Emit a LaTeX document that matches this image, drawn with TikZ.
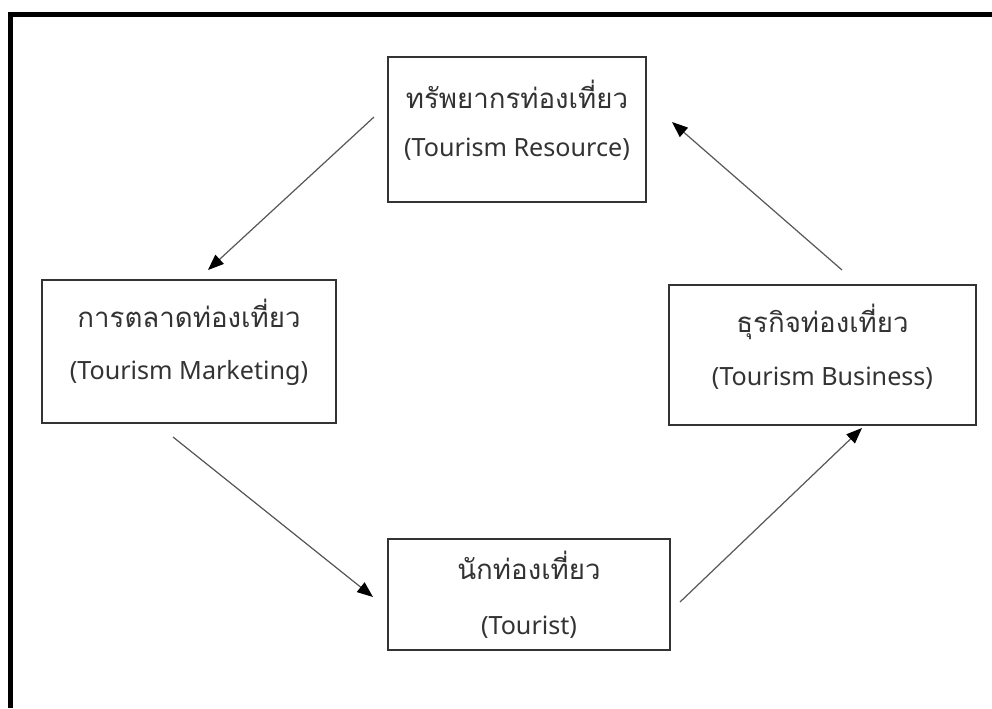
\documentclass[tikz,border=0pt]{standalone}
\usepackage{fontspec}
\setmainfont{Noto Sans}
\newfontfamily\thaifont[Script=Thai,Scale=1.1]{Loma}
\usetikzlibrary{arrows.meta}
\definecolor{txt}{rgb}{0.2,0.2,0.2}
\tikzstyle{every box node}=[draw=black!80,line width=0.7pt,align=center,text=txt,font=\fontsize{14.3}{17}\selectfont]
\tikzstyle{flow}=[draw=black!65,line width=0.7pt,-{Triangle[length=9pt,width=7pt]},arrows={[color=black]}]

\begin{document}
\begin{tikzpicture}[x=0.02cm,y=-0.02cm]
\useasboundingbox (0,0) rectangle (992,708);
\draw[line width=2.8pt,line join=miter] (10.5,708) -- (10.5,14.5) -- (992,14.5);

\node[every box node,minimum width=5.16cm,minimum height=2.9cm] (res) at (517,129.5) {{\thaifont ทรัพยากรท่องเที่ยว}\\[10.5pt](Tourism Resource)\\[-4pt]\mbox{}};
\node[every box node,minimum width=5.88cm,minimum height=2.86cm] (mkt) at (189,351.5) {{\thaifont การตลาดท่องเที่ยว}\\[13pt](Tourism Marketing)\\[-3pt]\mbox{}};
\node[every box node,minimum width=6.14cm,minimum height=2.8cm] (bus) at (822.5,355) {{\thaifont ธุรกิจท่องเที่ยว}\\[13pt](Tourism Business)\\[-5pt]\mbox{}};
\node[every box node,minimum width=5.64cm,minimum height=2.22cm] (tou) at (529,594.5) {{\thaifont นักท่องเที่ยว}\\[14.5pt](Tourist)};

\coordinate (r1) at (374,117);
\coordinate (m1) at (208,270);
\coordinate (m2) at (173,437);
\coordinate (t1) at (373,597);
\coordinate (t2) at (680,602);
\coordinate (b1) at (862,428);
\coordinate (b2) at (842,270);
\coordinate (r2) at (672,122);
\draw[flow] (r1) -- (m1);
\draw[flow] (m2) -- (t1);
\draw[flow] (t2) -- (b1);
\draw[flow] (b2) -- (r2);
\end{tikzpicture}
\end{document}
